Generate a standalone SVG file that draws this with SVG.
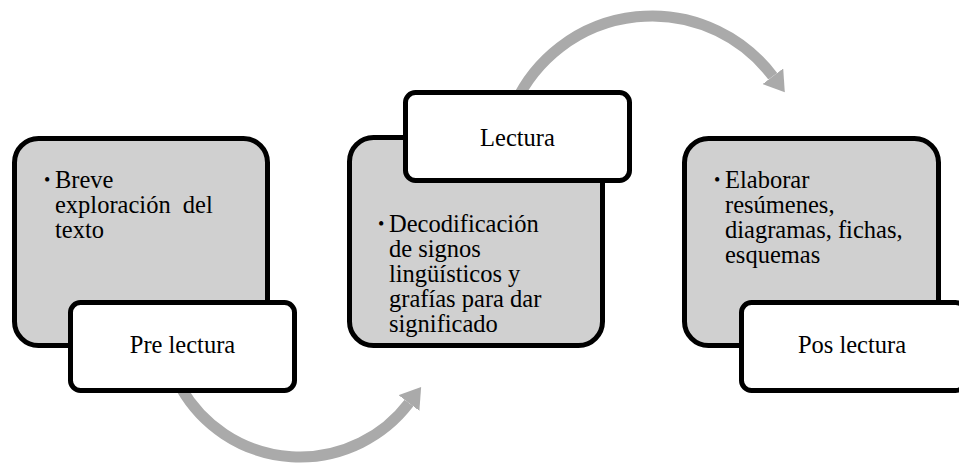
<svg xmlns="http://www.w3.org/2000/svg" width="959" height="464" viewBox="0 0 959 464">
<style>
.card{fill:#D0D0D0;stroke:#000;stroke-width:5}
.label{fill:#FFFFFF;stroke:#000;stroke-width:5}
text{font-family:'Liberation Serif','DejaVu Serif',serif;fill:#000}
.t{font-size:24.5px}
.c{text-anchor:middle}
.b{font-size:18px}
.arc{fill:none;stroke:#AAAAAA;stroke-width:11}
</style>
<defs>
<marker id="ah" markerUnits="userSpaceOnUse" viewBox="0 0 20 26" refX="0" refY="13" markerWidth="20" markerHeight="26" orient="auto">
<path d="M0,0 L20,13 L0,26 z" fill="#AAAAAA"/>
</marker>
</defs>
<rect width="959" height="464" fill="#FFFFFF"/>
<g id="connectors">
<path class="arc" d="M 515.2 103.2 A 151 151 0 0 1 772.8 76.3" marker-end="url(#ah)"/>
<path class="arc" d="M 181.4 388.5 A 137 137 0 0 0 409 403" marker-end="url(#ah)"/>
</g>
<g id="node-pre">
<rect class="card" x="14.5" y="138.5" width="253" height="207" rx="24"/>
<text class="b" x="44" y="186">•</text>
<text class="t" x="55" y="188">Breve</text>
<text class="t" x="55" y="213" word-spacing="6">exploración del</text>
<text class="t" x="55" y="238">texto</text>
<rect class="label" x="70.5" y="302.5" width="224" height="88" rx="10"/>
<text class="t c" x="182.5" y="353">Pre lectura</text>
</g>
<g id="node-lectura">
<rect class="card" x="349.5" y="137.5" width="253" height="208" rx="24"/>
<text class="b" x="378" y="230">•</text>
<text class="t" x="389" y="232">Decodificación</text>
<text class="t" x="389" y="257">de signos</text>
<text class="t" x="389" y="282">lingüísticos y</text>
<text class="t" x="389" y="307">grafías para dar</text>
<text class="t" x="389" y="332">significado</text>
<rect class="label" x="405.5" y="92.5" width="224" height="88" rx="10"/>
<text class="t c" x="517.5" y="146">Lectura</text>
</g>
<g id="node-pos">
<rect class="card" x="684.5" y="138.5" width="254" height="207" rx="24"/>
<text class="b" x="714" y="186">•</text>
<text class="t" x="725" y="188">Elaborar</text>
<text class="t" x="725" y="213">resúmenes,</text>
<text class="t" x="725" y="238">diagramas, fichas,</text>
<text class="t" x="725" y="263">esquemas</text>
<rect class="label" x="741.5" y="302.5" width="224" height="88" rx="10"/>
<text class="t c" x="852" y="353">Pos lectura</text>
</g>
</svg>
